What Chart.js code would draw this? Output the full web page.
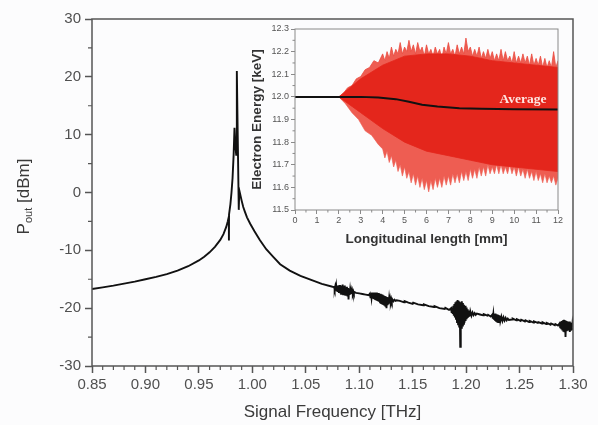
<!DOCTYPE html>
<html>
<head>
<meta charset="utf-8">
<script src="https://cdn.jsdelivr.net/npm/chart.js@4.4.0/dist/chart.umd.min.js"></script>
<style>
html, body { margin: 0; padding: 0; background: #fcfcfd; }
#wrap { position: relative; width: 598px; height: 425px; }
#main { position: absolute; left: 0; top: 0; }
#inset { position: absolute; left: 240px; top: 20px; }
</style>
</head>
<body>
<div id="wrap">
	<canvas id="main" width="598" height="425"></canvas>
	<canvas id="inset" width="335" height="232"></canvas>
</div>
<script>
const FONT = '"Liberation Sans", Arial, sans-serif';

// Output spectrum, [frequency THz, Pout dBm]
const leftBranch = [
	[0.850, -16.7], [0.860, -16.4], [0.870, -16.1], [0.880, -15.75], [0.890, -15.4],
	[0.900, -15.0], [0.910, -14.6], [0.920, -14.1], [0.930, -13.5], [0.940, -12.75],
	[0.950, -11.75], [0.955, -11.1], [0.960, -10.35], [0.965, -9.4], [0.970, -8.2],
	[0.973, -7.2], [0.9755, -6.0], [0.977, -5.0], [0.978, -4.2]
];
const peakRegion = [
	[0.9781, -8.3], [0.9782, -3.8], [0.9795, -2.0], [0.9805, 0.0], [0.9815, 2.5],
	[0.9825, 6.5], [0.9833, 11.2], [0.9840, 8.5], [0.9849, 6.5], [0.9855, 21.0],
	[0.9873, -3.0], [0.9878, 0.4]
];
const rightBranch = [
	[0.989, -0.6], [0.990, -1.4], [0.9915, -2.5], [0.993, -3.3], [0.995, -4.3],
	[0.998, -5.4], [1.002, -6.7], [1.007, -8.2], [1.013, -9.8], [1.020, -11.2],
	[1.026, -12.4], [1.035, -13.5], [1.045, -14.4], [1.055, -15.1], [1.065, -15.8],
	[1.075, -16.3]
];
const burst1 = [
	[1.0765, -16.35], [1.0770, -16.75], [1.0775, -16.3], [1.0780, -16.95], [1.0785, -16.2],
	[1.0790, -17.1], [1.0795, -16.1], [1.0800, -17.2], [1.0805, -16.15], [1.0810, -17.35],
	[1.0815, -16.0], [1.0820, -17.4], [1.0825, -16.2], [1.0830, -17.5], [1.0835, -16.1],
	[1.0840, -17.3], [1.0845, -15.9], [1.0850, -17.6], [1.0855, -16.2], [1.0860, -17.45],
	[1.0865, -16.1], [1.0870, -17.7], [1.0875, -16.4], [1.0880, -17.5], [1.0885, -16.3],
	[1.0890, -17.8], [1.0895, -16.5], [1.0900, -18.5], [1.0905, -16.6], [1.0910, -17.7],
	[1.0915, -16.8], [1.0920, -17.55], [1.0925, -16.95], [1.0930, -17.5], [1.0935, -17.0],
	[1.0940, -17.45], [1.0945, -17.1], [1.0950, -17.4], [1.0955, -17.2]
];
const gap1 = [
	[1.097, -17.35], [1.100, -17.45], [1.103, -17.55], [1.106, -17.65], [1.109, -17.75]
];
const burst2 = [
	[1.1100, -17.5], [1.1105, -18.1], [1.1110, -17.4], [1.1115, -18.2], [1.1120, -17.3],
	[1.1125, -18.3], [1.1130, -17.35], [1.1135, -18.4], [1.1140, -17.3], [1.1145, -18.55],
	[1.1150, -17.4], [1.1155, -18.6], [1.1160, -17.3], [1.1165, -18.7], [1.1170, -17.5],
	[1.1175, -18.8], [1.1180, -17.4], [1.1185, -18.9], [1.1190, -17.6], [1.1195, -19.0],
	[1.1200, -17.5], [1.1205, -19.1], [1.1210, -17.6], [1.1215, -19.2], [1.1220, -17.7],
	[1.1225, -19.3], [1.1230, -17.8], [1.1235, -19.4], [1.1240, -17.9], [1.1245, -19.6],
	[1.1250, -18.0], [1.1255, -20.0], [1.1260, -18.1], [1.1265, -19.5], [1.1270, -18.2],
	[1.1275, -19.3], [1.1280, -18.3], [1.1285, -19.1], [1.1290, -18.4], [1.1295, -18.9],
	[1.1300, -18.45], [1.1305, -18.85], [1.1310, -18.5], [1.1320, -18.8], [1.1330, -18.55],
	[1.1340, -18.75], [1.1350, -18.65]
];
const gap2 = [
	[1.138, -18.75], [1.142, -19.0], [1.1425, -18.8], [1.146, -19.05], [1.150, -19.25],
	[1.1505, -19.05], [1.155, -19.35], [1.160, -19.5], [1.1605, -19.35], [1.165, -19.65],
	[1.170, -19.8], [1.1705, -19.65], [1.175, -20.0], [1.180, -20.15], [1.1805, -19.95],
	[1.184, -20.3]
];
const burst3 = [
	[1.1860, -20.0], [1.1865, -20.8], [1.1870, -19.9], [1.1875, -21.0], [1.1880, -19.6],
	[1.1885, -21.3], [1.1890, -19.3], [1.1895, -21.6], [1.1900, -19.0], [1.1905, -22.0],
	[1.1910, -18.8], [1.1915, -22.4], [1.1920, -18.6], [1.1925, -22.8], [1.1930, -18.7],
	[1.1935, -23.2], [1.1940, -18.9], [1.1945, -26.7], [1.1950, -19.0], [1.1955, -23.4],
	[1.1960, -18.8], [1.1965, -23.0], [1.1970, -19.1], [1.1975, -22.7], [1.1980, -19.4],
	[1.1985, -22.5], [1.1990, -19.6], [1.1995, -22.2], [1.2000, -19.9], [1.2005, -21.9],
	[1.2010, -20.2], [1.2015, -21.7], [1.2020, -20.4], [1.2025, -21.5], [1.2030, -20.5],
	[1.2035, -21.4], [1.2040, -20.6], [1.2050, -21.3], [1.2060, -20.75], [1.2070, -21.2],
	[1.2080, -20.85], [1.2090, -21.15], [1.2100, -20.95]
];
const gap3 = [
	[1.213, -21.1], [1.216, -21.25], [1.2165, -21.05], [1.220, -21.3], [1.2205, -21.15],
	[1.223, -21.45]
];
const burst4 = [
	[1.2245, -21.1], [1.2250, -21.8], [1.2255, -21.0], [1.2260, -22.0], [1.2265, -21.0],
	[1.2270, -22.15], [1.2275, -20.95], [1.2280, -22.2], [1.2285, -21.05], [1.2290, -22.3],
	[1.2295, -21.1], [1.2300, -22.4], [1.2305, -21.2], [1.2310, -22.3], [1.2315, -21.3],
	[1.2320, -22.25], [1.2330, -21.45], [1.2340, -22.2], [1.2350, -21.6], [1.2360, -22.15],
	[1.2370, -21.7], [1.2380, -22.1], [1.2390, -21.8], [1.2400, -22.05]
];
const gap4 = [
	[1.243, -21.95], [1.2435, -21.8], [1.247, -22.1], [1.2475, -21.9], [1.251, -22.2],
	[1.2515, -22.0], [1.255, -22.3], [1.2555, -22.1], [1.259, -22.4], [1.2595, -22.2],
	[1.263, -22.5], [1.2635, -22.3], [1.267, -22.55], [1.2675, -22.4], [1.271, -22.65],
	[1.2715, -22.45], [1.275, -22.75], [1.2755, -22.55], [1.279, -22.85], [1.2795, -22.65],
	[1.283, -22.95], [1.2835, -22.75], [1.286, -23.0]
];
const burst5 = [
	[1.2875, -22.6], [1.2880, -23.3], [1.2885, -22.4], [1.2890, -23.5], [1.2895, -22.2],
	[1.2900, -23.7], [1.2905, -22.1], [1.2910, -23.9], [1.2915, -22.0], [1.2920, -24.0],
	[1.2925, -22.1], [1.2930, -25.0], [1.2935, -22.2], [1.2940, -24.0], [1.2945, -22.3],
	[1.2950, -23.9], [1.2955, -22.4], [1.2960, -23.8], [1.2965, -22.3], [1.2970, -24.1],
	[1.2975, -22.5], [1.2980, -23.9], [1.2985, -22.6], [1.2990, -23.8], [1.2995, -22.7],
	[1.3000, -23.4]
];

// Inset: electron energy vs longitudinal length, [mm, keV]
const average = [
	[0, 12.0], [2.0, 12.0], [3.0, 12.0], [3.8, 11.997], [4.6, 11.99], [5.2, 11.978],
	[5.8, 11.965], [6.5, 11.957], [7.5, 11.95], [8.5, 11.947], [10.0, 11.945], [12.0, 11.944]
];
const innerUpper = [
	[2.0, 12.0], [3.0, 12.08], [4.0, 12.14], [5.0, 12.18], [6.0, 12.19], [7.0, 12.19],
	[8.0, 12.18], [9.0, 12.16], [10.0, 12.15], [11.0, 12.14], [12.0, 12.13]
];
const innerLower = [
	[2.0, 12.0], [3.0, 11.93], [4.0, 11.86], [5.0, 11.80], [6.0, 11.76], [7.0, 11.74],
	[8.0, 11.72], [9.0, 11.70], [10.0, 11.69], [11.0, 11.68], [12.0, 11.67]
];
const outerUpper = [
	[2.0, 12.0], [2.2, 12.015], [2.4, 12.04], [2.6, 12.05], [2.8, 12.08], [3.0, 12.09],
	[3.2, 12.12], [3.4, 12.13], [3.6, 12.16], [3.8, 12.15],
	[4.0, 12.19], [4.1, 12.16], [4.2, 12.2], [4.3, 12.17], [4.4, 12.22], [4.5, 12.18],
	[4.6, 12.21], [4.7, 12.19], [4.8, 12.24], [4.9, 12.19], [5.0, 12.22], [5.1, 12.2],
	[5.2, 12.25], [5.3, 12.2], [5.4, 12.23], [5.5, 12.19], [5.6, 12.24], [5.7, 12.2],
	[5.8, 12.22], [5.9, 12.18], [6.0, 12.23], [6.1, 12.19], [6.2, 12.21], [6.3, 12.18],
	[6.4, 12.22], [6.5, 12.19], [6.6, 12.21], [6.7, 12.17], [6.8, 12.22], [6.9, 12.19],
	[7.0, 12.24], [7.1, 12.19], [7.2, 12.21], [7.3, 12.18], [7.4, 12.23], [7.5, 12.19],
	[7.6, 12.22], [7.7, 12.19], [7.8, 12.26], [7.9, 12.2], [8.0, 12.22], [8.1, 12.18],
	[8.2, 12.21], [8.3, 12.18], [8.4, 12.22], [8.5, 12.17], [8.6, 12.2], [8.7, 12.17],
	[8.8, 12.21], [8.9, 12.17], [9.0, 12.2], [9.1, 12.16], [9.2, 12.19], [9.3, 12.16],
	[9.4, 12.21], [9.5, 12.16], [9.6, 12.2], [9.7, 12.16], [9.8, 12.18], [9.9, 12.15],
	[10.0, 12.2], [10.1, 12.15], [10.2, 12.18], [10.3, 12.15], [10.4, 12.19], [10.5, 12.15],
	[10.6, 12.18], [10.7, 12.14], [10.8, 12.19], [10.9, 12.14], [11.0, 12.17], [11.1, 12.14],
	[11.2, 12.18], [11.3, 12.13], [11.4, 12.17], [11.5, 12.13], [11.6, 12.16], [11.7, 12.13],
	[11.8, 12.2], [11.9, 12.13], [12.0, 12.16]
];
const outerLower = [
	[2.0, 12.0], [2.3, 11.97], [2.6, 11.93], [2.9, 11.9], [3.2, 11.85], [3.5, 11.83],
	[3.8, 11.79],
	[4.0, 11.77], [4.1, 11.73], [4.2, 11.76], [4.3, 11.71], [4.4, 11.74], [4.5, 11.69],
	[4.6, 11.72], [4.7, 11.67], [4.8, 11.7], [4.9, 11.65], [5.0, 11.69], [5.1, 11.64],
	[5.2, 11.67], [5.3, 11.62], [5.4, 11.66], [5.5, 11.61], [5.6, 11.65], [5.7, 11.6],
	[5.8, 11.64], [5.9, 11.59], [6.0, 11.63], [6.1, 11.58], [6.2, 11.63], [6.3, 11.59],
	[6.4, 11.64], [6.5, 11.6], [6.6, 11.64], [6.7, 11.6], [6.8, 11.65], [6.9, 11.61],
	[7.0, 11.65], [7.1, 11.61], [7.2, 11.66], [7.3, 11.62], [7.4, 11.66], [7.5, 11.62],
	[7.6, 11.67], [7.7, 11.63], [7.8, 11.67], [7.9, 11.63], [8.0, 11.68], [8.1, 11.64],
	[8.2, 11.68], [8.3, 11.64], [8.4, 11.69], [8.5, 11.65], [8.6, 11.69], [8.7, 11.65],
	[8.8, 11.7], [8.9, 11.66], [9.0, 11.69], [9.1, 11.66], [9.2, 11.7], [9.3, 11.66],
	[9.4, 11.7], [9.5, 11.66], [9.6, 11.69], [9.7, 11.66], [9.8, 11.7], [9.9, 11.66],
	[10.0, 11.69], [10.1, 11.65], [10.2, 11.69], [10.3, 11.65], [10.4, 11.68], [10.5, 11.64],
	[10.6, 11.68], [10.7, 11.64], [10.8, 11.67], [10.9, 11.63], [11.0, 11.67], [11.1, 11.63],
	[11.2, 11.66], [11.3, 11.62], [11.4, 11.66], [11.5, 11.62], [11.6, 11.65], [11.7, 11.62],
	[11.8, 11.65], [11.9, 11.61], [12.0, 11.64]
];

const spectrum = [...leftBranch, ...peakRegion, ...rightBranch, ...burst1, ...gap1, ...burst2,
	...gap2, ...burst3, ...gap3, ...burst4, ...gap4, ...burst5].sort((a, b) => a[0] - b[0]);

const pts = arr => arr.map(([x, y]) => ({x, y}));

//Caixa, ticks menors i títols del gràfic principal
const mainDecor = {
	id: 'mainDecor',
	afterDraw(chart) {
		const {ctx, chartArea: a, scales: {x, y}} = chart;
		ctx.save();
		ctx.strokeStyle = '#555';
		ctx.lineWidth = 1.5;
		ctx.strokeRect(a.left, a.top, a.right - a.left, a.bottom - a.top);
		ctx.lineWidth = 1.2;
		ctx.beginPath();
		for (let i = 1; i < 45; i++) {
			if (i % 5 === 0) continue;
			const px = x.getPixelForValue(0.85 + i * 0.01);
			ctx.moveTo(px, a.bottom);
			ctx.lineTo(px, a.bottom + 4);
		}
		for (let v = -25; v < 30; v += 10) {
			const py = y.getPixelForValue(v);
			ctx.moveTo(a.left, py);
			ctx.lineTo(a.left - 4, py);
		}
		ctx.stroke();

		ctx.fillStyle = '#3a3a3a';
		ctx.font = '17px ' + FONT;
		ctx.textAlign = 'center';
		ctx.textBaseline = 'middle';
		ctx.fillText('Signal Frequency [THz]', (a.left + a.right) / 2, a.bottom + 46);

		ctx.translate(29, (a.top + a.bottom) / 2 + 4);
		ctx.rotate(-Math.PI / 2);
		ctx.textAlign = 'left';
		ctx.textBaseline = 'alphabetic';
		const big = '17px ' + FONT, small = '11px ' + FONT;
		ctx.font = big;
		const wP = ctx.measureText('P').width, wU = ctx.measureText(' [dBm]').width;
		ctx.font = small;
		const wO = ctx.measureText('out').width;
		const x0 = -(wP + wO + wU) / 2;
		ctx.font = big;
		ctx.fillText('P', x0, 0);
		ctx.font = small;
		ctx.fillText('out', x0 + wP, 3);
		ctx.font = big;
		ctx.fillText(' [dBm]', x0 + wP + wO, 0);
		ctx.restore();
	}
};

new Chart(document.getElementById('main'), {
	type: 'line',
	data: {
		datasets: [{
			data: pts(spectrum),
			borderColor: '#111',
			borderWidth: 1.9,
			pointRadius: 0,
			tension: 0
		}]
	},
	options: {
		responsive: false,
		animation: false,
		events: [],
		layout: {padding: {left: 0, top: 19, right: 25, bottom: 0}},
		plugins: {legend: {display: false}, tooltip: {enabled: false}},
		scales: {
			x: {
				type: 'linear',
				min: 0.85,
				max: 1.30,
				ticks: {
					stepSize: 0.05,
					autoSkip: false,
					maxRotation: 0,
					padding: 3,
					color: '#505050',
					font: {size: 15, family: FONT},
					callback: v => v.toFixed(2)
				},
				grid: {drawOnChartArea: false, tickLength: 7, color: '#555', tickWidth: 1.5},
				border: {display: false},
				afterFit: s => { s.height = 59; }
			},
			y: {
				min: -30,
				max: 30,
				ticks: {
					stepSize: 10,
					padding: 4,
					color: '#505050',
					font: {size: 15, family: FONT}
				},
				grid: {drawOnChartArea: false, tickLength: 7, color: '#555', tickWidth: 1.5},
				border: {display: false},
				afterFit: s => { s.width = 92; }
			}
		}
	},
	plugins: [mainDecor]
});

//Inset: caixa, ticks menors, títols i etiqueta "Average"
const insetDecor = {
	id: 'insetDecor',
	afterDatasetsDraw(chart) {
		const {ctx, scales: {x, y}} = chart;
		ctx.save();
		ctx.fillStyle = 'rgba(255,240,236,0.95)';
		ctx.font = 'bold 13.5px "Liberation Serif", "Times New Roman", serif';
		ctx.textAlign = 'center';
		ctx.textBaseline = 'middle';
		ctx.fillText('Average', x.getPixelForValue(10.4), y.getPixelForValue(11.99));
		ctx.restore();
	},
	afterDraw(chart) {
		const {ctx, chartArea: a, scales: {x, y}} = chart;
		ctx.save();
		ctx.strokeStyle = '#8a8a8a';
		ctx.lineWidth = 1;
		ctx.strokeRect(a.left, a.top, a.right - a.left, a.bottom - a.top);
		ctx.beginPath();
		for (let i = 0; i < 12; i++) {
			const px = x.getPixelForValue(i + 0.5);
			ctx.moveTo(px, a.bottom);
			ctx.lineTo(px, a.bottom + 2.5);
		}
		for (let i = 0; i < 8; i++) {
			const py = y.getPixelForValue(11.55 + i * 0.1);
			ctx.moveTo(a.left, py);
			ctx.lineTo(a.left - 2.5, py);
		}
		ctx.stroke();

		ctx.fillStyle = '#333';
		ctx.font = 'bold 13.5px ' + FONT;
		ctx.textAlign = 'center';
		ctx.textBaseline = 'middle';
		ctx.fillText('Longitudinal length [mm]', (a.left + a.right) / 2, a.bottom + 29);
		ctx.translate(a.left - 38, (a.top + a.bottom) / 2);
		ctx.rotate(-Math.PI / 2);
		ctx.fillText('Electron Energy [keV]', 0, 0);
		ctx.restore();
	}
};

new Chart(document.getElementById('inset'), {
	type: 'line',
	data: {
		datasets: [
			{data: pts(average), borderColor: '#111', borderWidth: 2, pointRadius: 0, fill: false},
			{data: pts(innerUpper), borderColor: '#e4261c', backgroundColor: '#e4261c', borderWidth: 0.8, pointRadius: 0, fill: '+1'},
			{data: pts(innerLower), borderColor: '#e4261c', borderWidth: 0.8, pointRadius: 0, fill: false},
			{data: pts(outerUpper), borderColor: '#ea4a3f', backgroundColor: '#ee5d52', borderWidth: 0.8, pointRadius: 0, fill: '+1'},
			{data: pts(outerLower), borderColor: '#f07a70', borderWidth: 0.8, pointRadius: 0, fill: false}
		]
	},
	options: {
		responsive: false,
		animation: false,
		events: [],
		layout: {padding: {left: 0, top: 9, right: 17, bottom: 0}},
		plugins: {legend: {display: false}, tooltip: {enabled: false}},
		scales: {
			x: {
				type: 'linear',
				min: 0,
				max: 12,
				ticks: {stepSize: 1, autoSkip: false, maxRotation: 0, padding: 1, color: '#555', font: {size: 9, family: FONT}},
				grid: {drawOnChartArea: false, tickLength: 4, color: '#8a8a8a'},
				border: {display: false},
				afterFit: s => { s.height = 42; }
			},
			y: {
				min: 11.5,
				max: 12.3,
				ticks: {stepSize: 0.1, padding: 2, color: '#555', font: {size: 9, family: FONT}, callback: v => v.toFixed(1)},
				grid: {drawOnChartArea: false, tickLength: 4, color: '#8a8a8a'},
				border: {display: false},
				afterFit: s => { s.width = 55; }
			}
		}
	},
	plugins: [insetDecor]
});
</script>
</body>
</html>
